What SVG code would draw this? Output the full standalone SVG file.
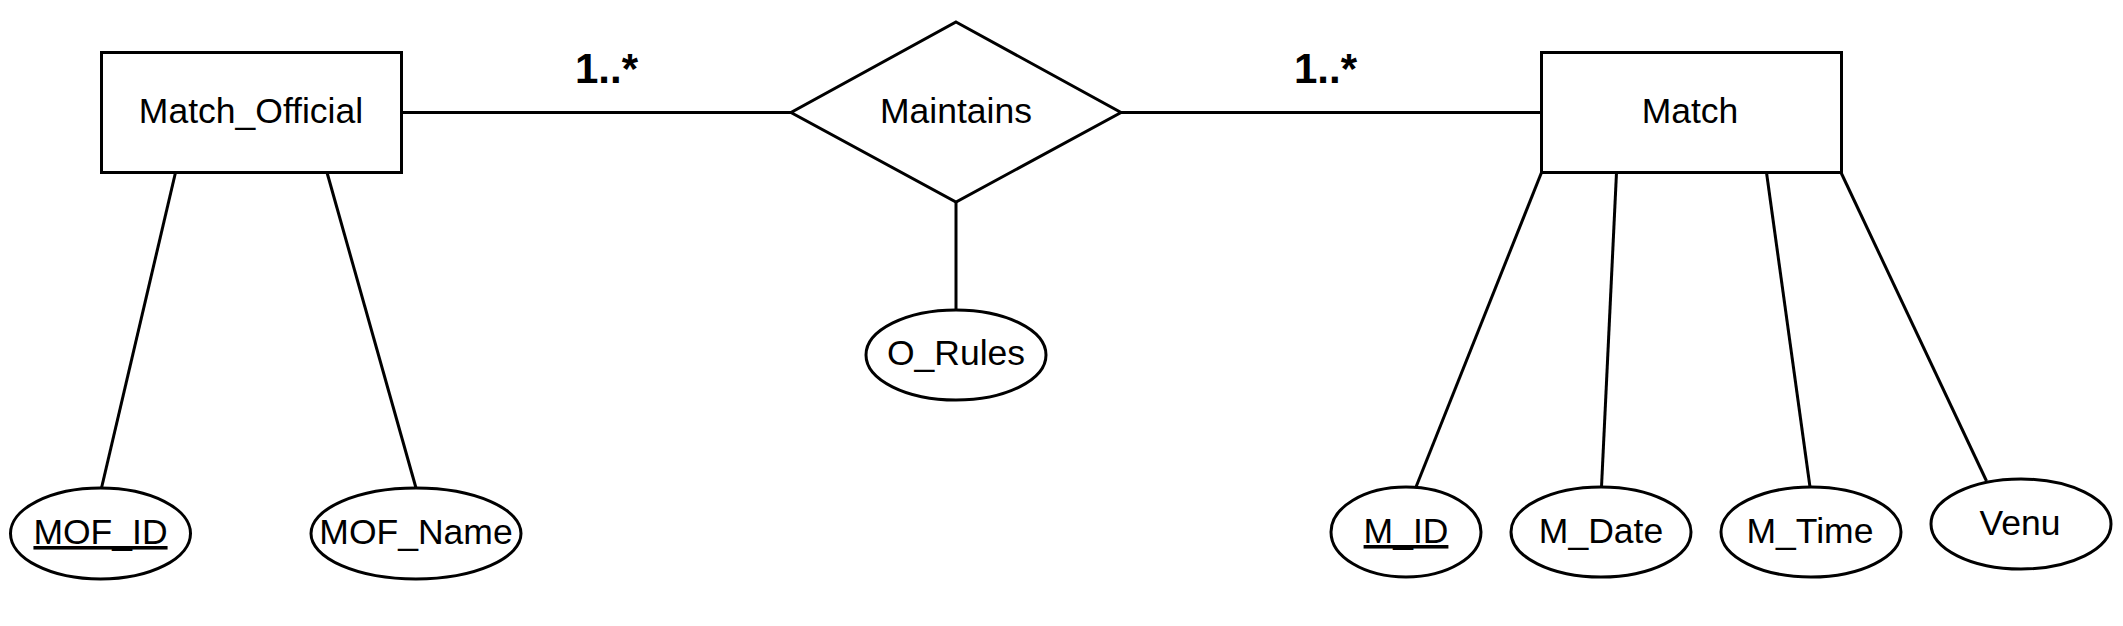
<svg xmlns="http://www.w3.org/2000/svg" width="2123" height="626" viewBox="0 0 2123 626">
<style>
.shape{fill:#ffffff;stroke:#000000;stroke-width:3}
.conn{stroke:#000000;stroke-width:3;fill:none}
.lbl{font-family:"Liberation Sans",Arial,sans-serif;font-size:35.5px;fill:#000000;text-anchor:middle}
.card{font-family:"Liberation Sans",Arial,sans-serif;font-size:42px;font-weight:bold;fill:#000000;text-anchor:start}
.key{text-decoration:underline}
</style>
<rect width="2123" height="626" fill="#ffffff"/>
<g id="connectors">
<line class="conn" x1="402" y1="112.5" x2="791" y2="112.5"/>
<line class="conn" x1="1121" y1="112.5" x2="1541" y2="112.5"/>
<line class="conn" x1="956" y1="202" x2="956" y2="310"/>
<line class="conn" x1="175.5" y1="172.5" x2="101.5" y2="488"/>
<line class="conn" x1="327" y1="172.5" x2="416" y2="488"/>
<line class="conn" x1="1541.5" y1="172.5" x2="1416" y2="487"/>
<line class="conn" x1="1616.5" y1="172.5" x2="1601.5" y2="487"/>
<line class="conn" x1="1766.5" y1="172.5" x2="1810" y2="487"/>
<line class="conn" x1="1841" y1="172.5" x2="1986.5" y2="481"/>
<text class="card" x="575" y="83">1..*</text>
<text class="card" x="1294" y="83">1..*</text>
</g>
<g id="match_official">
<rect class="shape" x="101.5" y="52.5" width="300" height="120"/>
<text class="lbl" x="251" y="123">Match_Official</text>
</g>
<g id="maintains">
<polygon class="shape" points="956,22 1121,112.5 956,202 791,112.5"/>
<text class="lbl" x="956" y="123">Maintains</text>
</g>
<g id="match">
<rect class="shape" x="1541.5" y="52.5" width="300" height="120"/>
<text class="lbl" x="1690" y="123">Match</text>
</g>
<g id="o_rules">
<ellipse class="shape" cx="956" cy="355" rx="90" ry="45"/>
<text class="lbl" x="956" y="365">O_Rules</text>
</g>
<g id="mof_id">
<ellipse class="shape" cx="100.5" cy="533.5" rx="90" ry="45.5"/>
<text class="lbl key" x="100.5" y="544">MOF_ID</text>
</g>
<g id="mof_name">
<ellipse class="shape" cx="416" cy="533.5" rx="105" ry="45.5"/>
<text class="lbl" x="416" y="544">MOF_Name</text>
</g>
<g id="m_id">
<ellipse class="shape" cx="1406" cy="532" rx="75" ry="45"/>
<text class="lbl key" x="1406" y="543">M_ID</text>
</g>
<g id="m_date">
<ellipse class="shape" cx="1601" cy="532" rx="90" ry="45"/>
<text class="lbl" x="1601" y="543">M_Date</text>
</g>
<g id="m_time">
<ellipse class="shape" cx="1811" cy="532" rx="90" ry="45"/>
<text class="lbl" x="1810" y="543">M_Time</text>
</g>
<g id="venu">
<ellipse class="shape" cx="2021" cy="524" rx="90" ry="45"/>
<text class="lbl" x="2020" y="535">Venu</text>
</g>
</svg>
